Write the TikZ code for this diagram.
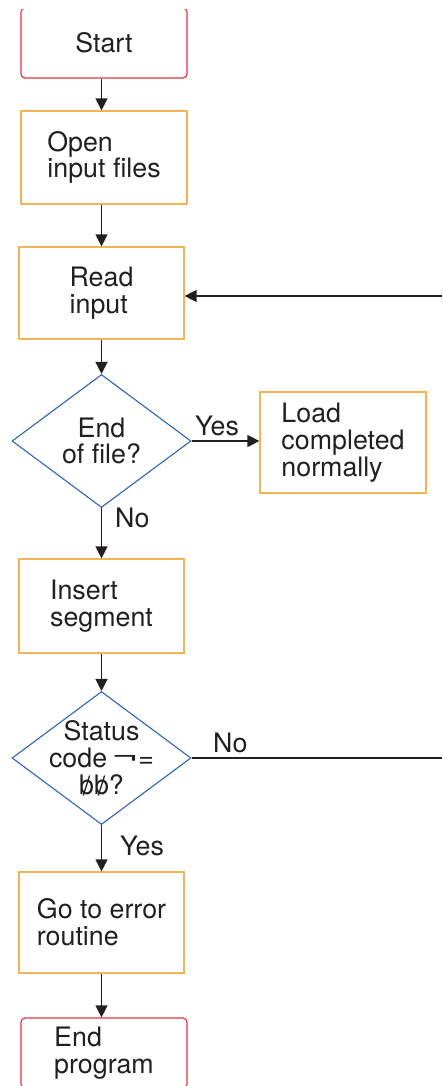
\documentclass[tikz,border=0pt]{standalone}
\usepackage{fontspec}
\setmainfont{TeX Gyre Heros}
\usetikzlibrary{shapes.geometric,arrows.meta}
\definecolor{termred}{HTML}{E8343F}
\definecolor{procorange}{HTML}{F4B454}
\definecolor{decblue}{HTML}{2B66AE}
\definecolor{ink}{HTML}{231F20}
\newcommand\slashb{\ooalign{b\cr\hidewidth\raisebox{-1pt}{/}\hidewidth}}
\tikzset{
  every node/.style={font=\fontsize{26.8}{26.8}\selectfont, text=ink},
  terminal/.style={draw=termred, line width=1.2pt, rounded corners=4pt, minimum width=166pt, minimum height=70pt, align=left, inner sep=0pt},
  process/.style={draw=procorange, line width=1.2pt, align=left, inner sep=0pt},
  decision/.style={draw=decblue, line width=1.1pt, diamond, minimum width=179pt, minimum height=133pt, inner sep=0pt},
  dectext/.style={align=center, inner sep=0pt},
  flow/.style={draw=ink, line width=1.3pt, -{Triangle[length=12pt,width=12pt]}},
  plain/.style={draw=ink, line width=1.3pt},
  lbl/.style={inner sep=0pt, anchor=base west},
}
\begin{document}
\begin{tikzpicture}[x=1pt,y=-1pt]
\useasboundingbox (0,0) rectangle (442,1086);
\begin{scope}
  \clip (0,9.5) rectangle (442,200);
  \node[terminal] (start) at (104,43) {Start};
\end{scope}
\node[process, minimum width=166pt, minimum height=93pt] (open) at (104,157.5) {Open\\input files};
\node[process, minimum width=165pt, minimum height=92pt] (read) at (101.5,293) {Read\\input};
\node[decision] (eof) at (101.5,441) {};
\node[dectext] (eoft) at (101.5,441) {End\\of file?};
\node[process, minimum width=166pt, minimum height=101pt] (load) at (343,442.5) {Load\\completed\\normally};
\node[process, minimum width=165pt, minimum height=94pt] (insert) at (101.5,606) {Insert\\segment};
\node[decision] (status) at (101.5,758) {};
\node[dectext] (statust) at (101.5,758) {Status\\code\,\raisebox{1.5pt}{\scalebox{1.7}[1]{¬}}=\\\slashb\slashb?};
\node[process, minimum width=165pt, minimum height=101pt] (error) at (101.5,922.5) {Go to error\\routine};
\node[terminal] (end) at (104,1053) {End\\program};
\coordinate (inR) at (442,296);
\coordinate (noR) at (442,758);
% connectors
\draw[flow] (start.south -| read) -- (read |- open.north);
\draw[flow] (open.south -| read) -- (read.north);
\draw[flow] (inR) -- (inR -| read.east);
\draw[flow] (read.south) -- (eof.north);
\draw[flow] (eof.east) -- (eof.east -| load.west);
\draw[flow] (eof.south) -- (insert.north);
\draw[flow] (insert.south) -- (status.north);
\draw[plain] (status.east) -- (noR);
\draw[flow] (status.south) -- (error.north);
\draw[flow] (error.south) -- (end.north -| error);
% labels
\node[lbl] (yes1) at (195,435) {Yes};
\node[lbl] (no1) at (115,527) {No};
\node[lbl] (no2) at (213,752) {No};
\node[lbl] (yes2) at (120,855) {Yes};
\end{tikzpicture}
\end{document}
